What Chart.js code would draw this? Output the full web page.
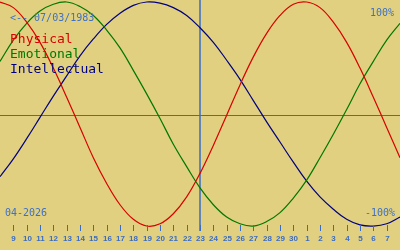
<!DOCTYPE html>
<html>
<head>
<meta charset="utf-8">
<script src="https://cdn.jsdelivr.net/npm/chart.js@4.4.1/dist/chart.umd.min.js"></script>
<style>
  html, body { margin: 0; padding: 0; background: #e0d080; }
  #wrap { width: 400px; height: 250px; }
</style>
</head>
<body>
<div id="wrap"><canvas id="bioChart" width="400" height="250"></canvas></div>
<script>
// days shown on the axis (Apr 8 .. May 8), first and last are off the tick row
var dayLabels = ['8', '9', '10', '11', '12', '13', '14', '15', '16', '17', '18', '19', '20', '21', '22',
                 '23', '24', '25', '26', '27', '28', '29', '30', '1', '2', '3', '4', '5', '6', '7', '8'];
// values in %
var physical = [100, 95, 82, 64, 41, 15, -12, -39, -62, -81, -94, -100, -98, -89, -74, -53,
                -28, -1, 26, 51, 72, 88, 98, 100, 95, 82, 64, 41, 15, -12, -39];
var emotional = [47, 66, 81, 92, 98, 100, 96, 88, 75, 59, 39, 18, -4, -27, -47, -66,
                 -81, -92, -98, -100, -96, -88, -75, -59, -39, -18, 4, 27, 47, 66, 81];
var intellectual = [-56, -40, -22, -3, 16, 34, 52, 67, 80, 90, 97, 100, 99, 95, 88, 77,
                    64, 48, 31, 12, -7, -25, -43, -60, -74, -85, -94, -99, -100, -98, -92];
var seriesNames = ['Physical', 'Emotional', 'Intellectual'];
var seriesColors = ['#d80000', '#007800', '#000080'];
var todayIndex = 15;
var birthText = '<-- 07/03/1983';
var monthText = '04-2026';
var topText = '100%';
var bottomText = '-100%';

var axisBlue = '#3a6cc4';
var textBlue = '#3f70c4';

var bioDecor = {
  id: 'bioDecor',
  beforeDraw: function(chart) {
    var ctx = chart.ctx;
    ctx.save();
    ctx.fillStyle = '#e0d080';
    ctx.fillRect(0, 0, chart.width, chart.height);
    ctx.restore();
  },
  beforeDatasetsDraw: function(chart) {
    var ctx = chart.ctx;
    var x = chart.scales.x, y = chart.scales.y;
    var y0 = Math.round(y.getPixelForValue(0)) + 0.5;
    var xt = Math.round(x.getPixelForValue(todayIndex));
    ctx.save();
    ctx.strokeStyle = axisBlue;
    ctx.lineWidth = 1;
    ctx.beginPath();
    ctx.moveTo(0, y0 + 1);
    ctx.lineTo(chart.width, y0 + 1);
    ctx.stroke();
    ctx.lineWidth = 1.5;
    ctx.beginPath();
    ctx.moveTo(xt, 0);
    ctx.lineTo(xt, 231);
    ctx.stroke();
    ctx.restore();
  },
  afterDraw: function(chart) {
    var ctx = chart.ctx;
    var x = chart.scales.x;
    ctx.save();
    // tick marks + day numbers
    ctx.strokeStyle = axisBlue;
    ctx.fillStyle = axisBlue;
    ctx.lineWidth = 1;
    ctx.font = 'bold 8px "Liberation Sans"';
    ctx.textAlign = 'center';
    ctx.textBaseline = 'alphabetic';
    for (var i = 1; i < dayLabels.length - 1; i++) {
      var px = Math.round(x.getPixelForValue(i)) + 0.5;
      ctx.beginPath();
      ctx.moveTo(px, 225);
      ctx.lineTo(px, 231);
      ctx.stroke();
      ctx.fillText(dayLabels[i], px, 240.5);
    }
    // texts
    ctx.fillStyle = textBlue;
    ctx.font = '10px "DejaVu Sans Mono"';
    ctx.textAlign = 'left';
    ctx.fillText(birthText, 10, 21);
    ctx.fillText(monthText, 5, 216);
    ctx.textAlign = 'right';
    ctx.fillText(topText, 394, 16);
    ctx.fillText(bottomText, 395, 216);
    ctx.textAlign = 'left';
    ctx.font = '13px "DejaVu Sans Mono"';
    for (var k = 0; k < seriesNames.length; k++) {
      ctx.fillStyle = seriesColors[k];
      ctx.fillText(seriesNames[k], 10, 43 + k * 15);
    }
    ctx.restore();
  }
};

function makeSet(label, data, color) {
  return {
    label: label,
    data: data,
    borderColor: color,
    borderWidth: 1.2,
    pointRadius: 0,
    fill: false,
    tension: 0.4
  };
}

var ctx = document.getElementById('bioChart').getContext('2d');
var bioChart = new Chart(ctx, {
  type: 'line',
  data: {
    labels: dayLabels,
    datasets: [
      makeSet(seriesNames[0], physical, seriesColors[0]),
      makeSet(seriesNames[1], emotional, seriesColors[1]),
      makeSet(seriesNames[2], intellectual, seriesColors[2])
    ]
  },
  options: {
    responsive: false,
    animation: false,
    devicePixelRatio: 1,
    layout: { padding: 0 },
    plugins: { legend: { display: false }, tooltip: { enabled: false } },
    scales: {
      x: { type: 'category', display: false, offset: false },
      y: { type: 'linear', display: false, min: -121.4, max: 101.8 }
    }
  },
  plugins: [bioDecor]
});
</script>
</body>
</html>
